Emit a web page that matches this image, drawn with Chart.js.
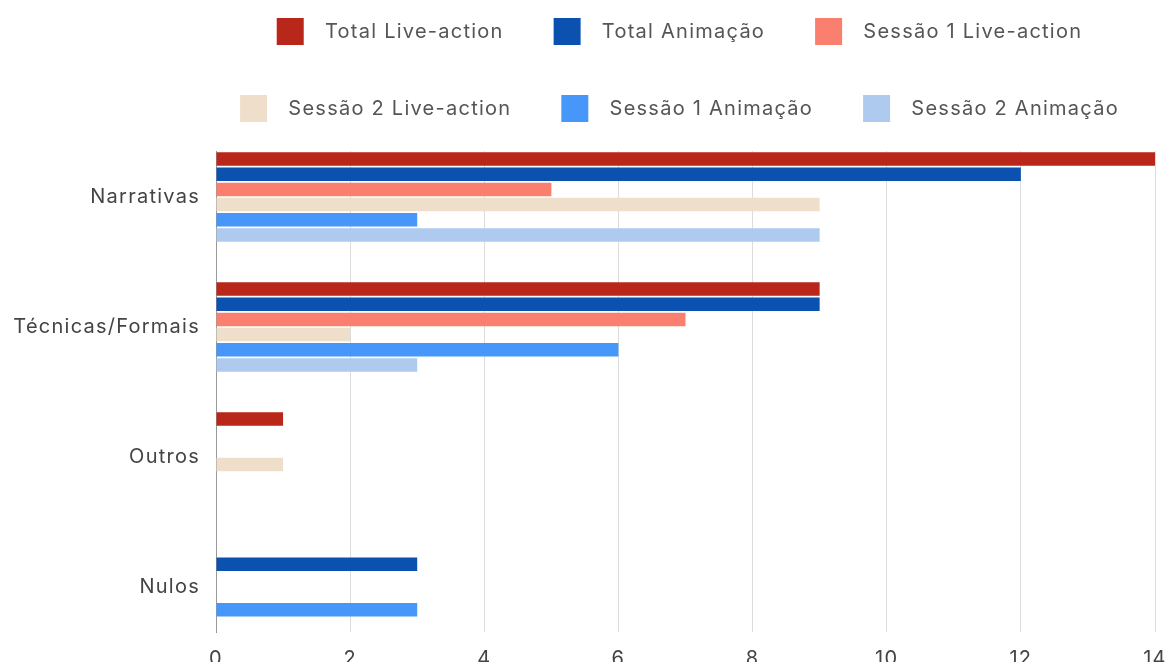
<!DOCTYPE html>
<html lang="pt">
<head>
  <meta charset="UTF-8">
  <title>Narrativas, Técnicas/Formais, Outros, Nulos</title>
  <script src="https://cdn.jsdelivr.net/npm/chart.js"></script>
  <style>
    html, body {
      margin: 0;
      padding: 0;
      background: #fff;
      overflow: hidden;
    }
    #wrap {
      width: 1168px;
      height: 662px;
      overflow: hidden;
    }
  </style>
</head>
<body>
  <div id="wrap">
    <canvas id="barChart" width="1168" height="680"></canvas>
  </div>

  <script>
    const categories = ['Narrativas', 'Técnicas/Formais', 'Outros', 'Nulos'];
    const seriesNames = [
      'Total Live-action', 'Total Animação', 'Sessão 1 Live-action',
      'Sessão 2 Live-action', 'Sessão 1 Animação', 'Sessão 2 Animação'
    ];
    const totalLiveAction = [14, 9, 1, 0];
    const totalAnimacao = [12, 9, 0, 3];
    const sessao1LiveAction = [5, 7, 0, 0];
    const sessao2LiveAction = [9, 2, 1, 0];
    const sessao1Animacao = [3, 6, 0, 3];
    const sessao2Animacao = [9, 3, 0, 0];
    const xTicks = [0, 2, 4, 6, 8, 10, 12, 14];

    const colors = ['#b9261a', '#0a51b0', '#fa7f6e', '#efdfca', '#4797fb', '#aecaef'];
    const allSeries = [totalLiveAction, totalAnimacao, sessao1LiveAction,
                       sessao2LiveAction, sessao1Animacao, sessao2Animacao];

    const datasets = allSeries.map((vals, s) => ({
      label: seriesNames[s],
      data: vals.map((v, i) => ({ x: v, y: i })),
      backgroundColor: colors[s],
      borderWidth: 0,
      categoryPercentage: 0.70,
      barPercentage: 0.89
    }));

    // wider tracking like the original, room under the legend,
    // and legend centred over the plot instead of the whole canvas
    const tweaks = {
      id: 'tweaks',
      beforeLayout(chart) {
        chart.ctx.letterSpacing = '1.25px';
        const lg = chart.legend;
        if (lg && !lg._patched) {
          const fit = lg.fit.bind(lg);
          lg.fit = function () { fit(); this.height += 19; };
          lg._patched = true;
        }
      },
      afterLayout(chart) {
        if (chart.legend) {
          chart.legend.left = 139;
          chart.legend.right = 1220;
        }
      },
      beforeDraw(chart) {
        chart.ctx.letterSpacing = '1.25px';
      }
    };

    const ctx = document.getElementById('barChart').getContext('2d');
    new Chart(ctx, {
      type: 'bar',
      data: { datasets },
      plugins: [tweaks],
      options: {
        indexAxis: 'y',
        responsive: false,
        animation: false,
        layout: { padding: { top: -32, left: 0, right: 0, bottom: 0 } },
        plugins: {
          tooltip: { enabled: false },
          legend: {
            position: 'top',
            labels: {
              boxWidth: 27,
              boxHeight: 27,
              padding: 50,
              color: '#555',
              font: { family: 'Inter', size: 20 },
              generateLabels(chart) {
                const items = Chart.defaults.plugins.legend.labels.generateLabels(chart);
                items.forEach(it => { it.text = '\u2002' + it.text; });
                return items;
              }
            }
          }
        },
        scales: {
          x: {
            type: 'linear',
            min: 0,
            max: 14,
            afterBuildTicks(axis) {
              axis.ticks = xTicks.map(v => ({ value: v }));
            },
            afterFit(axis) {
              axis.height = 48;
              axis.paddingLeft = 0;
              axis.paddingRight = 13;
            },
            ticks: {
              color: '#444',
              padding: 15,
              font: { family: 'Inter', size: 20 }
            },
            grid: {
              drawTicks: false,
              color: c => (c.tick && c.tick.value === 0 ? '#999' : '#dcdcdc')
            },
            border: { display: false }
          },
          y: {
            type: 'linear',
            reverse: true,
            offset: false,
            min: -0.354,
            max: 3.346,
            afterBuildTicks(axis) {
              axis.ticks = categories.map((c, i) => ({ value: i }));
            },
            afterFit(axis) { axis.width = 216; },
            ticks: {
              color: '#444',
              padding: 16,
              font: { family: 'Inter', size: 20 },
              callback: v => categories[v]
            },
            grid: { display: false, drawTicks: false, offset: false },
            border: { display: true, color: '#999' }
          }
        }
      }
    });
  </script>
</body>
</html>
